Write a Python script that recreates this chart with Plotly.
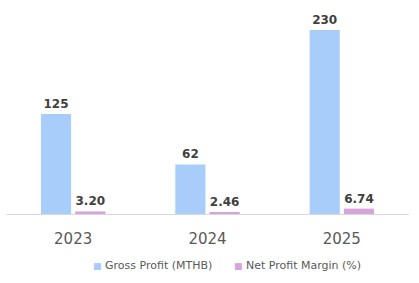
import plotly.graph_objects as go

years = ["2023", "2024", "2025"]
gross_profit = [125, 62, 230]
net_margin = [3.20, 2.46, 6.74]
gross_labels = ["125", "62", "230"]
margin_labels = ["3.20", "2.46", "6.74"]
series_names = ["Gross Profit (MTHB)", "Net Profit Margin (%)"]
series_colors = ["#a8cdfb", "#d4a4da"]

label_font = dict(family="DejaVu Sans", size=12, color="#404040", weight="bold")

fig = go.Figure()
fig.add_trace(go.Bar(
    x=years, y=gross_profit, name=series_names[0],
    marker=dict(color=series_colors[0], line=dict(width=0)),
    text=gross_labels, textposition="outside", textfont=label_font,
    cliponaxis=False, showlegend=False,
))
fig.add_trace(go.Bar(
    x=years, y=net_margin, name=series_names[1],
    marker=dict(color=series_colors[1], line=dict(width=0)),
    text=margin_labels, textposition="outside", textfont=label_font,
    cliponaxis=False, showlegend=False,
))

# legend drawn as annotations (small square markers next to the text)
legend_x = [0.212, 0.562]
for name, col, lx in zip(series_names, series_colors, legend_x):
    fig.add_annotation(
        xref="paper", yref="paper", x=lx, y=-0.25, xanchor="left", yanchor="middle",
        text=f"<span style='color:{col};font-size:9px'>■</span> {name}",
        showarrow=False,
        font=dict(family="DejaVu Sans", size=11, color="#595959"),
    )

fig.update_layout(
    width=419, height=283,
    margin=dict(l=6, r=10, t=10, b=69),
    paper_bgcolor="white", plot_bgcolor="white",
    barmode="group", bargap=0.49, bargroupgap=0.12,
    showlegend=False,
    xaxis=dict(showline=True, linecolor="#d9d9d9", linewidth=1, ticks="",
               ticklabelstandoff=11,
               tickfont=dict(family="DejaVu Sans", size=15, color="#595959"),
               showgrid=False),
    yaxis=dict(range=[0, 255], visible=False, showgrid=False, zeroline=False),
)
fig.write_html("out.html")
